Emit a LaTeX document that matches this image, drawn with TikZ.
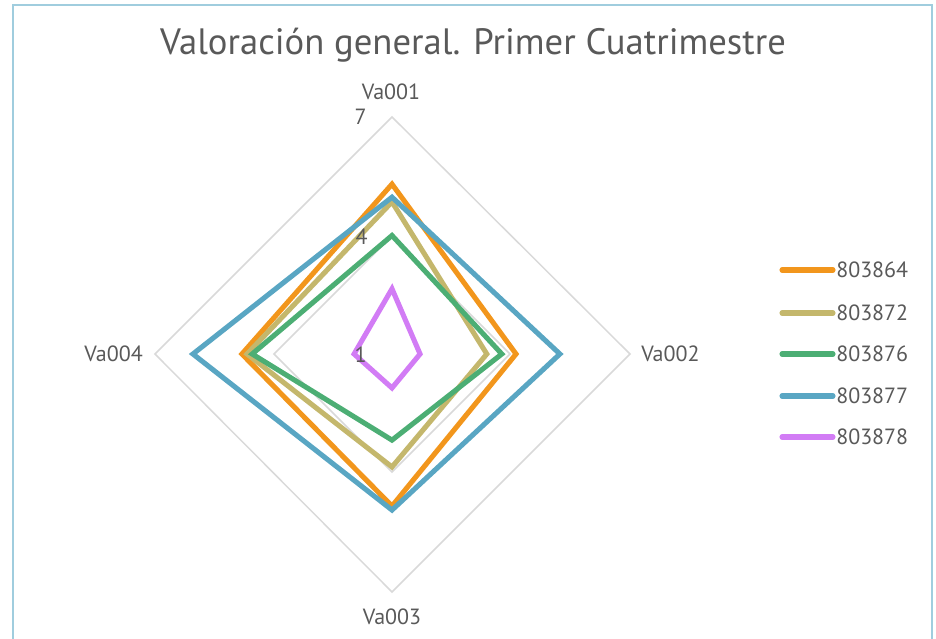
\documentclass[tikz,border=0pt]{standalone}
\usepackage{fontspec}
\setmainfont{PT Sans}
\definecolor{textgray}{RGB}{89,89,89}
\definecolor{gridgray}{RGB}{217,217,217}
\definecolor{framblue}{RGB}{160,205,222}
\definecolor{sA}{RGB}{242,150,28}
\definecolor{sB}{RGB}{196,183,108}
\definecolor{sC}{RGB}{76,174,116}
\definecolor{sD}{RGB}{89,166,195}
\definecolor{sE}{RGB}{210,124,245}
\begin{document}
\begin{tikzpicture}
            [x=0.75pt, y=-0.75pt,
             grid/.style = {draw=gridgray, line width=1.1pt},
             serie/.style = {line width=3.8pt, line join=miter},
             key/.style = {line width=3.8pt, line cap=round},
             lbl/.style = {text=textgray, font=\fontsize{16.5}{18}\selectfont, inner sep=0pt},
             tick/.style = {lbl, anchor=east}]
            \useasboundingbox (0,0) rectangle (936,639);
            \draw[framblue, line width=1.6pt] (13,650) -- (13,5) -- (932,5) -- (932,650);
            % title
            \node[text=textgray, font=\fontsize{27.5}{30}\selectfont] (title) at (473,45) {Valoración general. Primer Cuatrimestre};
            % grid
            \coordinate (c) at (392,354);
            \draw[grid] (392,117) -- (630,354) -- (392,592) -- (155,354) -- cycle;
            \draw[grid] (392,236) -- (510,354) -- (392,472) -- (274,354) -- cycle;
            % axes
            \node[lbl] (v1) at (391,92) {Va001};
            \node[lbl, anchor=west] (v2) at (641,354) {Va002};
            \node[lbl] (v3) at (392,617) {Va003};
            \node[lbl, anchor=east] (v4) at (143,354) {Va004};
            % series
            \foreach \col/\a/\b/\c/\d in {sA/5.30/4.14/4.85/4.80, sB/4.85/3.40/3.86/4.67,
                sC/4.00/3.78/3.18/4.54, sD/4.97/5.25/4.95/6.04, sE/2.65/1.71/1.86/1.96}
              \draw[serie, \col] (392,{354-(\a-1)*39.5}) -- ({392+(\b-1)*39.5},354)
                -- (392,{354+(\c-1)*39.5}) -- ({392-(\d-1)*39.5},354) -- cycle;
            \node[tick] (t7) at (367,117) {7};
            \node[tick] (t4) at (368,237) {4};
            \node[tick] (t1) at (367,355) {1};
            % legend
            \foreach \col/\name/\y in {sA/803864/270, sB/803872/313, sC/803876/354, sD/803877/396, sE/803878/437} {
              \coordinate (k\name) at (782,\y);
              \draw[key, \col] (k\name) -- ++(51,0);
              \node[lbl, anchor=west] (n\name) at (836,\y) {\name};
            }
\end{tikzpicture}
\end{document}
